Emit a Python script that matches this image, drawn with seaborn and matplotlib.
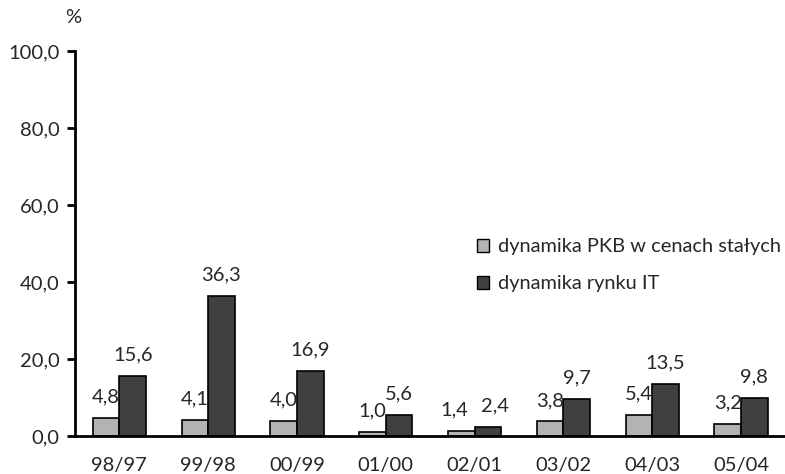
import pandas as pd
import numpy as np
import matplotlib
matplotlib.use('Agg')
import matplotlib.pyplot as plt
import seaborn as sns

okresy = ['98/97', '99/98', '00/99', '01/00', '02/01', '03/02', '04/03', '05/04']
pkb = [4.8, 4.1, 4.0, 1.0, 1.4, 3.8, 5.4, 3.2]
rynek_it = [15.6, 36.3, 16.9, 5.6, 2.4, 9.7, 13.5, 9.8]
serie = ['dynamika PKB w cenach stałych', 'dynamika rynku IT']
y_ticks = [0, 20, 40, 60, 80, 100]

df = pd.DataFrame({
    'okres': okresy * 2,
    'wartosc': pkb + rynek_it,
    'seria': [serie[0]] * len(okresy) + [serie[1]] * len(okresy),
})

sns.set_style('white')
plt.rcParams['font.family'] = ['Lato', 'DejaVu Sans']
fs = 14.5

fig = plt.figure(figsize=(7.85, 4.74), dpi=100)
ax = fig.add_axes([0.0955, 0.080, 0.905, 0.812])

sns.barplot(data=df, x='okres', y='wartosc', hue='seria', hue_order=serie,
            order=okresy, palette=['#b3b3b3', '#404040'], width=0.6,
            edgecolor='black', linewidth=1.2, saturation=1, ax=ax)

etykiety = []
for cont in ax.containers:
    etykiety.append(ax.bar_label(cont, fmt=lambda v: f'{v:.1f}'.replace('.', ','),
                                 padding=9, fontsize=fs))
# rozsuniecie nachodzacych etykiet (02/01)
etykiety[0][4].xyann = (-5, 9)
etykiety[1][4].xyann = (5, 9)

ax.set_ylim(0, 100)
ax.set_xlim(-0.5, len(okresy) - 0.5)
ax.set_yticks(y_ticks)
ax.set_yticklabels([f'{v:.1f}'.replace('.', ',') for v in y_ticks], fontsize=fs)
ax.set_xticks(range(len(okresy)))
ax.set_xticklabels(okresy, fontsize=fs)
ax.set_xticks(np.arange(-0.5, len(okresy), 1), minor=True)
ax.tick_params(axis='x', which='major', length=0, pad=15)
ax.tick_params(axis='x', which='minor', length=6, width=2, direction='out', color='black')
ax.tick_params(axis='y', length=6, width=2, direction='out', color='black', pad=5, left=True)
ax.set_xlabel('')
ax.set_ylabel('')

sns.despine(ax=ax)
for s in ['left', 'bottom']:
    ax.spines[s].set_linewidth(2)
    ax.spines[s].set_color('black')

fig.text(0.093, 0.963, '%', fontsize=fs, ha='center', va='center')

leg = ax.legend(loc='upper left', bbox_to_anchor=(0.608, 0.497), bbox_transform=fig.transFigure,
                frameon=False, fontsize=14.4, handlelength=0.6, handleheight=0.6,
                handletextpad=0.45, labelspacing=1.0, borderpad=0, borderaxespad=0)
for h in leg.legend_handles:
    h.set_edgecolor('black')
    h.set_linewidth(1)

fig.savefig('out.png', dpi=100)
